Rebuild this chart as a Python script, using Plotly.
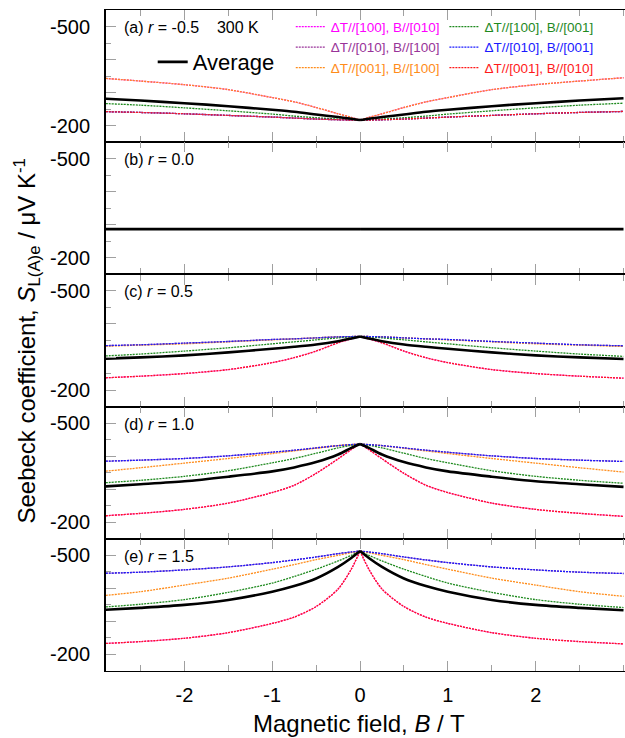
import plotly.graph_objects as go
from plotly.subplots import make_subplots

# Magnetic field grid (T), read on the positive side; curves are symmetric in B
B_HALF = [0, 0.1, 0.25, 0.5, 0.75, 1.0, 1.5, 2.0, 2.5, 3.0]

SERIES_NAMES = [
    "ΔT//[100], B//[010]",
    "ΔT//[010], B//[100]",
    "ΔT//[001], B//[100]",
    "ΔT//[100], B//[001]",
    "ΔT//[010], B//[001]",
    "ΔT//[001], B//[010]",
]
SERIES_COLORS = ["#ff00ff", "#993399", "#ff8c1a", "#1f8a1f", "#1a1aff", "#ff1a1a"]

PANEL_LABELS = [
    "(a) <i>r</i> = -0.5\u00a0\u00a0\u00a0 300 K",
    "(b) <i>r</i> = 0.0",
    "(c) <i>r</i> = 0.5",
    "(d) <i>r</i> = 1.0",
    "(e) <i>r</i> = 1.5",
]

# Panel (a) r = -0.5   (µV/K)
a_mag = [-217, -225, -236, -255, -272, -285, -309, -324, -335, -345]
a_pur = [-217, -217, -218, -220, -223, -226, -231, -236, -240, -243]
a_ora = [-217, -225, -236, -255, -272, -285, -309, -324, -335, -345]
a_gre = [-217, -218, -220, -224, -229, -235, -245, -254, -262, -268]
a_blu = [-217, -217, -218, -220, -223, -226, -231, -236, -240, -243]
a_red = [-217, -217, -218, -220, -223, -226, -231, -236, -240, -243]
a_avg = [-217, -221, -226, -234, -242, -248, -259, -268, -276, -283]

# Panel (b) r = 0.0
b_mag = [-287, -287, -287, -287, -287, -287, -287, -287, -287, -287]
b_pur = [-287, -287, -287, -287, -287, -287, -287, -287, -287, -287]
b_ora = [-287, -287, -287, -287, -287, -287, -287, -287, -287, -287]
b_gre = [-287, -287, -287, -287, -287, -287, -287, -287, -287, -287]
b_blu = [-287, -287, -287, -287, -287, -287, -287, -287, -287, -287]
b_red = [-287, -287, -287, -287, -287, -287, -287, -287, -287, -287]
b_avg = [-287, -287, -287, -287, -287, -287, -287, -287, -287, -287]

# Panel (c) r = 0.5
c_mag = [-362, -355, -343, -318, -298, -283, -262, -250, -242, -236]
c_pur = [-362, -362, -361, -358, -355, -353, -347, -342, -337, -334]
c_ora = [-362, -362, -361, -358, -355, -352, -346, -340, -336, -332]
c_gre = [-362, -361, -358, -352, -346, -340, -328, -318, -309, -302]
c_blu = [-362, -362, -361, -358, -355, -353, -347, -342, -337, -334]
c_red = [-362, -355, -343, -318, -298, -283, -262, -250, -242, -236]
c_avg = [-362, -356, -348, -338, -331, -325, -314, -305, -299, -294]

# Panel (d) r = 1.0
d_mag = [-437, -420, -392, -348, -312, -290, -258, -239, -227, -218]
d_pur = [-437, -435, -432, -425, -418, -412, -401, -393, -388, -384]
d_ora = [-437, -435, -432, -424, -416, -408, -393, -379, -365, -352]
d_gre = [-437, -433, -425, -409, -393, -380, -356, -339, -327, -318]
d_blu = [-437, -435, -432, -425, -418, -412, -401, -393, -388, -384]
d_red = [-437, -420, -392, -348, -312, -290, -258, -239, -227, -218]
d_avg = [-437, -425, -405, -382, -366, -354, -338, -324, -315, -307]

# Panel (e) r = 1.5
e_mag = [-513, -458, -398, -345, -313, -294, -266, -249, -239, -232]
e_pur = [-513, -510, -505, -495, -486, -478, -465, -456, -449, -445]
e_ora = [-513, -508, -500, -487, -472, -458, -431, -410, -390, -376]
e_gre = [-513, -500, -483, -458, -436, -416, -388, -366, -352, -342]
e_blu = [-513, -510, -505, -495, -486, -478, -465, -456, -449, -445]
e_red = [-513, -458, -398, -345, -313, -294, -266, -249, -239, -232]
e_avg = [-513, -492, -465, -430, -407, -390, -365, -350, -341, -334]

PANELS = [
    [a_mag, a_pur, a_ora, a_gre, a_blu, a_red, a_avg],
    [b_mag, b_pur, b_ora, b_gre, b_blu, b_red, b_avg],
    [c_mag, c_pur, c_ora, c_gre, c_blu, c_red, c_avg],
    [d_mag, d_pur, d_ora, d_gre, d_blu, d_red, d_avg],
    [e_mag, e_pur, e_ora, e_gre, e_blu, e_red, e_avg],
]

Y_RANGE = [-150, -550]
Y_TICKS = [-500, -400, -300, -200]
Y_TICKTEXT = ["-500", "", "", "-200"]
Y_MINOR = [-550, -450, -350, -250, -150]
X_RANGE = [-2.893, 3.017]
X_TICKS = [-2, -1, 0, 1, 2]
X_TICKTEXT = ["-2", "-1", "0", "1", "2"]


# Each curve: left branch and right branch (meeting in the cusp at B = 0),
# separated by a gap so that smoothing keeps the cusp sharp.
B_FULL = [-b for b in reversed(B_HALF)] + [None] + list(B_HALF)


def both_sides(vals):
    return list(reversed(vals)) + [None] + list(vals)


FONT = "Liberation Sans, Arial, sans-serif"

fig = make_subplots(rows=5, cols=1, shared_xaxes=True, vertical_spacing=0)

for p, series in enumerate(PANELS):
    row = p + 1
    for i in range(6):
        fig.add_trace(
            go.Scatter(
                x=B_FULL,
                y=both_sides(series[i]),
                mode="lines",
                connectgaps=False,
                line=dict(color=SERIES_COLORS[i], width=1.3, dash="2px,1px",
                          shape="spline", smoothing=0.8),
                name=f"<span style='color:{SERIES_COLORS[i]}'>{SERIES_NAMES[i]}</span>",
                legend="legend" if i < 3 else "legend2",
                showlegend=(p == 0),
                hoverinfo="skip",
            ),
            row=row,
            col=1,
        )
    fig.add_trace(
        go.Scatter(
            x=B_FULL,
            y=both_sides(series[6]),
            mode="lines",
            connectgaps=False,
            line=dict(color="black", width=2.6, shape="spline", smoothing=0.8),
            name="Average",
            legend="legend3",
            showlegend=(p == 0),
            hoverinfo="skip",
        ),
        row=row,
        col=1,
    )

TICKCOL = "#a0a0a0"
for r in range(1, 6):
    fig.update_xaxes(
        range=X_RANGE,
        tickmode="array",
        tickvals=X_TICKS,
        ticktext=X_TICKTEXT,
        ticks="inside",
        ticklen=10,
        tickwidth=1,
        tickcolor=TICKCOL,
        minor=dict(ticks="inside", dtick=0.5, tick0=0.5, ticklen=6, tickcolor=TICKCOL, tickwidth=1, showgrid=False),
        showline=True,
        linecolor="black",
        linewidth=1.2,
        mirror="allticks",
        showgrid=False,
        zeroline=False,
        tickfont=dict(family=FONT, size=20, color="black"),
        ticklabelstandoff=6,
        row=r,
        col=1,
    )
    fig.update_yaxes(
        range=Y_RANGE,
        tickmode="array",
        tickvals=Y_TICKS,
        ticktext=Y_TICKTEXT,
        ticks="inside",
        ticklen=10,
        tickwidth=1,
        tickcolor=TICKCOL,
        minor=dict(ticks="inside", tickmode="array", tickvals=Y_MINOR, ticklen=5, tickcolor=TICKCOL, tickwidth=1, showgrid=False),
        showline=True,
        linecolor="black",
        linewidth=2,
        mirror=False,
        showgrid=False,
        zeroline=False,
        tickfont=dict(family=FONT, size=20, color="black"),
        ticklabelstandoff=10,
        row=r,
        col=1,
    )

# Right-hand tick marks (the right frame edge lies just outside the picture)
right_axes = {}
for r in range(1, 6):
    main = "y" if r == 1 else f"y{r}"
    xname = "x" if r == 1 else f"x{r}"
    right_axes[f"yaxis{r + 5}"] = dict(
        overlaying=main,
        anchor=xname,
        side="right",
        range=Y_RANGE,
        tickmode="array",
        tickvals=Y_TICKS,
        showticklabels=False,
        ticks="inside",
        ticklen=10,
        tickwidth=1,
        tickcolor=TICKCOL,
        minor=dict(ticks="inside", tickmode="array", tickvals=Y_MINOR, ticklen=5, tickcolor=TICKCOL, tickwidth=1, showgrid=False),
        showline=False,
        showgrid=False,
        zeroline=False,
    )
fig.update_layout(**right_axes)

# Panel labels
ax_names = ["y", "y2", "y3", "y4", "y5"]
for p in range(5):
    fig.add_annotation(
        text=PANEL_LABELS[p],
        xref="paper",
        yref=ax_names[p],
        x=0.031,
        y=-497,
        xanchor="left",
        yanchor="middle",
        showarrow=False,
        font=dict(family=FONT, size=16, color="black"),
    )

# Axis titles
fig.add_annotation(
    text="Seebeck coefficient, <i>S</i><sub>L(A)e</sub> / μV K<sup>-1</sup>",
    xref="paper", yref="paper",
    x=-0.154, y=0.5,
    xanchor="center", yanchor="middle",
    textangle=-90,
    showarrow=False,
    font=dict(family=FONT, size=24, color="black"),
)
fig.add_annotation(
    text="Magnetic field, <i>B</i> / T",
    xref="paper", yref="paper",
    x=0.4875, y=-0.079,
    xanchor="center", yanchor="middle",
    showarrow=False,
    font=dict(family=FONT, size=24, color="black"),
)

LEG_COMMON = dict(
    xanchor="left", yanchor="top",
    bgcolor="rgba(0,0,0,0)", borderwidth=0,
    itemwidth=30, tracegroupgap=0,
    itemclick=False, itemdoubleclick=False,
)
fig.update_layout(
    width=625,
    height=738,
    margin=dict(l=106, r=0, t=10, b=67),
    plot_bgcolor="white",
    paper_bgcolor="white",
    font=dict(family=FONT, color="black"),
    legend=dict(x=0.356, y=0.998, font=dict(family=FONT, size=13.5), **LEG_COMMON),
    legend2=dict(x=0.652, y=0.998, font=dict(family=FONT, size=13.5), **LEG_COMMON),
    legend3=dict(x=0.09, y=0.953, font=dict(family=FONT, size=22), **LEG_COMMON),
)

fig.write_html("out.html")
